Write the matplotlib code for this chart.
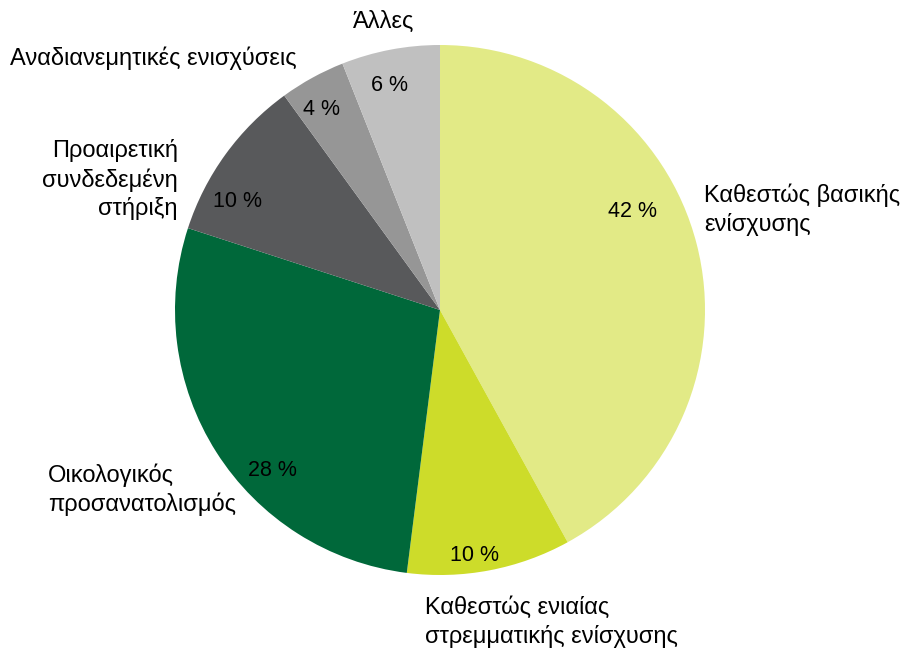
import matplotlib.pyplot as plt

# Shares of direct payments (%)
categories = ['Καθεστώς βασικής\nενίσχυσης',
              'Καθεστώς ενιαίας\nστρεμματικής ενίσχυσης',
              'Οικολογικός\nπροσανατολισμός',
              'Προαιρετική\nσυνδεδεμένη\nστήριξη',
              'Αναδιανεμητικές ενισχύσεις',
              'Άλλες']
shares = [42, 10, 28, 10, 4, 6]
colors = ['#E2EA86', '#CDDC2A', '#00683A', '#58595B', '#969696', '#C0C0C0']

# label placement (relative to pie radius) - styling only
pct_pos = [(0.725, 0.37), (0.132, -0.928), (-0.634, -0.604),
           (-0.766, 0.408), (-0.449, 0.755), (-0.192, 0.849)]
lab_pos = [(0.996, 0.377, 'left'), (-0.057, -1.177, 'left'),
           (-1.479, -0.679, 'left'), (-0.989, 0.491, 'right'),
           (-1.623, 0.951, 'left'), (-0.211, 1.087, 'center')]

plt.rcParams['font.family'] = ['Liberation Sans', 'DejaVu Sans']

fig = plt.figure(figsize=(9.06, 6.53), dpi=100)
ax = fig.add_axes([175 / 906, 78 / 653, 530 / 906, 530 / 653])

ax.pie(shares, colors=colors, startangle=90, counterclock=False,
       radius=1, wedgeprops=dict(linewidth=0))

for val, (x, y) in zip(shares, pct_pos):
    ax.text(x, y, f'{val} %', ha='center', va='center', fontsize=15.5)

for lab, (x, y, ha) in zip(categories, lab_pos):
    ax.text(x, y, lab, ha=ha, va='center', fontsize=17,
            multialignment=ha, linespacing=1.32, clip_on=False)

ax.set_xlim(-1, 1)
ax.set_ylim(-1, 1)
ax.axis('off')

plt.savefig('out.png', dpi=100)
